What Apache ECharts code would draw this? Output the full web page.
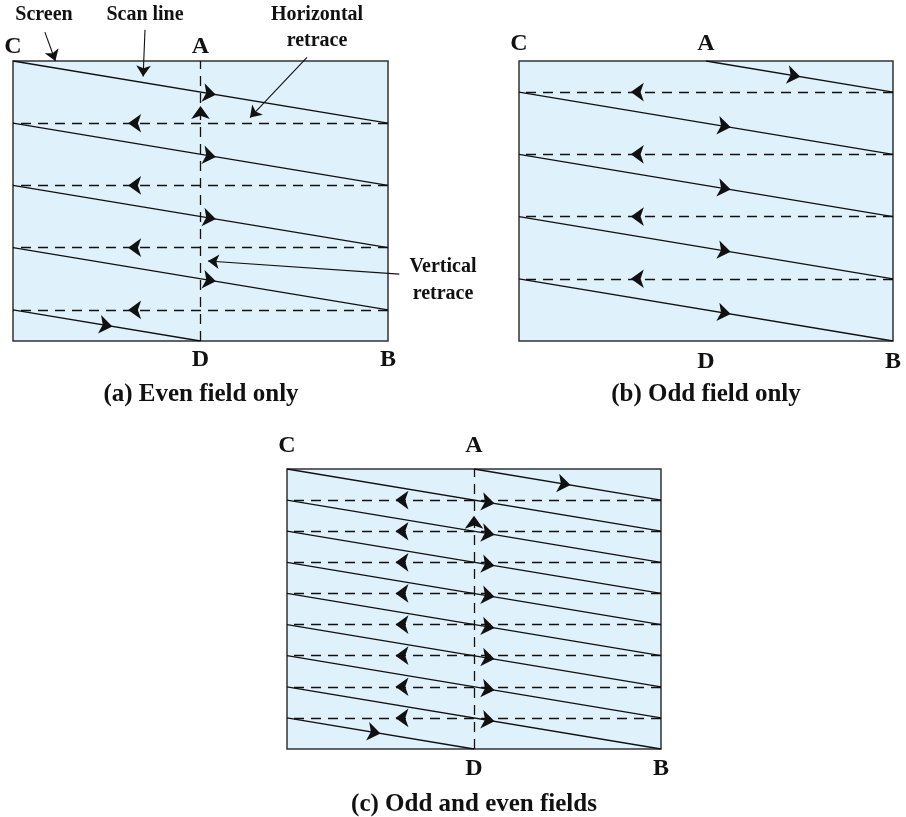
<!DOCTYPE html>
<html>
<head>
<meta charset="utf-8">
<script src="https://cdn.jsdelivr.net/npm/echarts@6/dist/echarts.min.js"></script>
<style>
  html, body { margin: 0; padding: 0; background: #fff; }
  #main { width: 906px; height: 817px; }
</style>
</head>
<body>
<div id="main"></div>
<script>
// screen coords: x = fraction of screen width, y = half line pitch from the top (0..9)
const evenScan = [[0, 0, 1, 2], [0, 2, 1, 4], [0, 4, 1, 6], [0, 6, 1, 8], [0, 8, 0.5, 9]];
const oddScan = [[0.5, 0, 1, 1], [0, 1, 1, 3], [0, 3, 1, 5], [0, 5, 1, 7], [0, 7, 1, 9]];
const evenRetrace = [2, 4, 6, 8];
const oddRetrace = [1, 3, 5, 7];
const verticalRetrace = [0.5, 9, 0]; // x, from y, to y

// where the arrowheads sit (x along each scan line)
const evenArrowA = [0.541, 0.541, 0.541, 0.541, 0.265];
const oddArrowB = [0.752, 0.566, 0.566, 0.566, 0.566];
const evenArrowC = [0.555, 0.555, 0.555, 0.555, 0.25];
const oddArrowC = [0.758, 0.555, 0.555, 0.555, 0.555];
const retraceArrowX = [0.307, 0.299, 0.29];
const verticalArrowY = [1.45, null, 1.5];

const cornerLabels = [['C', 0, 0], ['A', 0.5, 0], ['D', 0.5, 9], ['B', 1, 9]];
const captions = ['(a) Even field only', '(b) Odd field only', '(c) Odd and even fields'];

// callouts on panel (a): text, from, to
const pointers = [
  ['Screen', [0.085, -0.93], [0.113, 0.0]],
  ['Scan line', [0.352, -1.0], [0.347, 0.5]],
  ['Horizontal retrace', [0.784, -0.12], [0.632, 1.82]],
  ['Vertical retrace', [1.03, 6.85], [0.52, 6.43]]
];

const grids = [
  { left: 13, top: 61, width: 375, height: 280 },
  { left: 519, top: 61, width: 374, height: 280 },
  { left: 287, top: 469, width: 374, height: 280 }
];
const labelOffset = [[-14, 19], [-17, 21], [-23, 20]];
const ink = '#111111';
const font = '"Liberation Serif", "DejaVu Serif", serif';

function yAt(seg, x) {
  return seg[1] + (seg[3] - seg[1]) * (x - seg[0]) / (seg[2] - seg[0]);
}

function buildPanel(i, fields, hasVertical) {
  const g = grids[i];
  const out = [];
  const scanLines = [], retraceLines = [], arrows = [];
  fields.forEach(f => {
    f.scan.forEach((s, k) => {
      scanLines.push({ coords: [[s[0], s[1]], [s[2], s[3]]] });
      const ax = f.arrows[k];
      const dx = (s[2] - s[0]) * g.width, dy = (s[3] - s[1]) * g.height / 9;
      const deg = Math.atan2(dy, dx) * 180 / Math.PI;
      arrows.push({ value: [ax, yAt(s, ax)], symbolRotate: -90 - deg });
    });
    f.retrace.forEach(y => {
      retraceLines.push({ coords: [[1, y], [0, y]] });
      arrows.push({ value: [retraceArrowX[i], y], symbolRotate: 90 });
    });
  });
  if (hasVertical) {
    retraceLines.push({ coords: [[verticalRetrace[0], verticalRetrace[1]], [verticalRetrace[0], verticalRetrace[2]]] });
    arrows.push({ value: [verticalRetrace[0], verticalArrowY[i]], symbolRotate: 0 });
  }
  out.push({
    type: 'lines', coordinateSystem: 'cartesian2d', xAxisIndex: i, yAxisIndex: i,
    data: retraceLines, silent: true, z: 2,
    lineStyle: { color: ink, width: 1.3, type: [10, 7], opacity: 1 }
  });
  out.push({
    type: 'lines', coordinateSystem: 'cartesian2d', xAxisIndex: i, yAxisIndex: i,
    data: scanLines, silent: true, z: 3,
    lineStyle: { color: ink, width: 1.3, opacity: 1 }
  });
  out.push({
    type: 'scatter', xAxisIndex: i, yAxisIndex: i, data: arrows, silent: true, z: 5,
    symbol: 'arrow', symbolSize: [14, 13], itemStyle: { color: ink, opacity: 1 }
  });
  return out;
}

const series = [].concat(
  buildPanel(0, [{ scan: evenScan, arrows: evenArrowA, retrace: evenRetrace }], true),
  buildPanel(1, [{ scan: oddScan, arrows: oddArrowB, retrace: oddRetrace }], false),
  buildPanel(2, [
    { scan: evenScan, arrows: evenArrowC, retrace: evenRetrace },
    { scan: oddScan, arrows: oddArrowC, retrace: oddRetrace }
  ], true)
);

// callout leader lines on panel (a)
series.push({
  type: 'lines', coordinateSystem: 'cartesian2d', xAxisIndex: 0, yAxisIndex: 0,
  clip: false, silent: true, z: 7,
  symbol: ['none', 'arrow'], symbolSize: [10, 11],
  lineStyle: { color: ink, width: 1.1, opacity: 1 },
  data: pointers.map(p => ({ coords: [p[1], p[2]] }))
});

const textStyle = (t, x, y, size) => ({
  type: 'text', x: x, y: y, z: 100,
  style: { text: t, fill: ink, fontFamily: font, fontWeight: 'bold', fontSize: size,
           textAlign: 'center', textVerticalAlign: 'middle' }
});

const graphic = [
  textStyle('Screen', 44, 15, 20),
  textStyle('Scan line', 145, 15, 20),
  textStyle('Horizontal', 317, 15, 20),
  textStyle('retrace', 317, 41, 20),
  textStyle('Vertical', 443, 267, 20),
  textStyle('retrace', 443, 294, 20),
  textStyle(captions[0], 201, 395, 25),
  textStyle(captions[1], 706, 395, 25),
  textStyle(captions[2], 474, 805, 25)
];

const chart = echarts.init(document.getElementById('main'), null, { renderer: 'canvas' });
chart.setOption({
  animation: false,
  backgroundColor: '#fff',
  grid: grids.map(g => Object.assign({
    show: true, backgroundColor: '#dff1fb', borderColor: '#333', borderWidth: 1.5
  }, g)),
  xAxis: grids.map((g, i) => ({ type: 'value', gridIndex: i, min: 0, max: 1, show: false })),
  yAxis: grids.map((g, i) => ({ type: 'value', gridIndex: i, min: 0, max: 9, inverse: true, show: false })),
  series: series
});

// corner letters placed through each panel's own axes
grids.forEach((g, i) => {
  cornerLabels.forEach(c => {
    const p = chart.convertToPixel({ xAxisIndex: i, yAxisIndex: i }, [c[1], c[2]]);
    const dy = c[2] === 0 ? labelOffset[i][0] : labelOffset[i][1];
    graphic.push(textStyle(c[0], p[0], p[1] + dy, 24));
  });
});
chart.setOption({ graphic: graphic });
</script>
</body>
</html>
